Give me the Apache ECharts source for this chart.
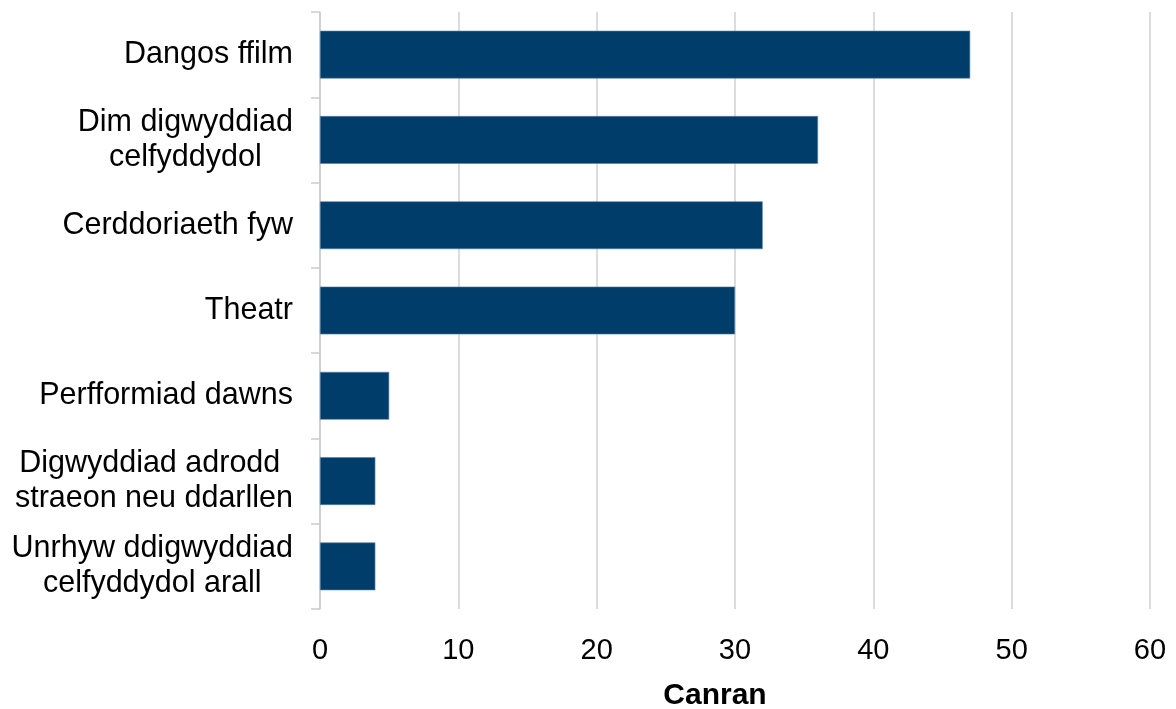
<!DOCTYPE html>
<html>
<head>
<meta charset="utf-8">
<script src="https://cdn.jsdelivr.net/npm/echarts@6/dist/echarts.min.js"></script>
<style>html,body{margin:0;padding:0;background:#fff}#c{width:1176px;height:709px}</style>
</head>
<body>
<div id="c"></div>
<script>
const categories = [
  "Dangos ffilm",
  "Dim digwyddiad\ncelfyddydol",
  "Cerddoriaeth fyw",
  "Theatr",
  "Perfformiad dawns",
  "Digwyddiad adrodd \nstraeon neu ddarllen",
  "Unrhyw ddigwyddiad\ncelfyddydol arall"
];
const values = [47, 36, 32, 30, 5, 4, 4];
const axisName = "Canran";

const FONT = 'Liberation Sans, Arial, sans-serif';
const chart = echarts.init(document.getElementById('c'), null, {renderer: 'canvas'});
chart.setOption({
  animation: false,
  grid: {left: 320, right: 26, top: 12, bottom: 100, containLabel: false, outerBoundsMode: 'none'},
  xAxis: {
    type: 'value', min: 0, max: 60, interval: 10,
    name: axisName, nameLocation: 'middle', nameGap: 72,
    nameTextStyle: {fontFamily: FONT, fontSize: 30, fontWeight: 'bold', color: '#000', padding: [0, 40, 0, 0]},
    axisLine: {show: false}, axisTick: {show: false},
    axisLabel: {fontFamily: FONT, fontSize: 29, color: '#000', margin: 27},
    splitLine: {show: true, lineStyle: {color: '#d0d0d0', width: 1.5}}
  },
  yAxis: {
    type: 'category', data: categories, inverse: true,
    axisLine: {show: true, lineStyle: {color: '#cccccc', width: 1.5}},
    axisTick: {show: true, length: 9, lineStyle: {color: '#cccccc', width: 1.5}},
    axisLabel: {
      color: '#000', margin: 27, align: 'right',
      formatter: function (v) {
        return v.split('\n').map(function (s) { return '{a|' + s + '}'; }).join('\n');
      },
      rich: {a: {fontFamily: FONT, fontSize: 30.5, color: '#000', lineHeight: 35, align: 'center'}}
    }
  },
  series: [{
    type: 'bar', data: values, barCategoryGap: '44%',
    itemStyle: {color: '#003d6b', borderColor: '#5a7fa0', borderWidth: 0.6}
  }]
});
</script>
</body>
</html>
